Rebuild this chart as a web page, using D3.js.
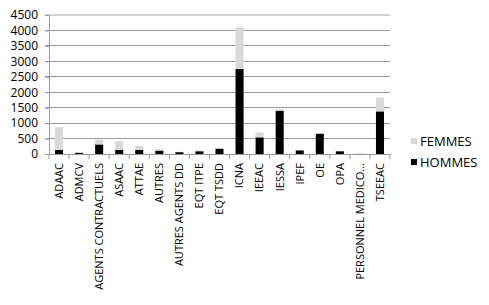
<!DOCTYPE html>
<meta charset="utf-8">
<script src="https://d3js.org/d3.v7.min.js"></script>
<style>
  body { margin: 0; background: #fff; }
  text { font-family: "Open Sans", sans-serif; fill: #000; }
</style>
<div id="my_dataviz"></div>

<script>
// Donnees
var categories = ["ADAAC", "ADMCV", "AGENTS CONTRACTUELS", "ASAAC", "ATTAE", "AUTRES",
                  "AUTRES AGENTS DD", "EQT ITPE", "EQT TSDD", "ICNA", "IEEAC", "IESSA",
                  "IPEF", "OE", "OPA", "PERSONNEL MEDICO...", "TSEEAC"];
var hommes = [130, 40, 310, 130, 130, 110, 60, 90, 170, 2750, 540, 1400, 120, 660, 90, 5, 1380];
var femmes = [740, 20, 150, 290, 130, 50, 10, 20, 5, 1350, 160, 50, 10, 20, 5, 5, 450];
var yTicks = [0, 500, 1000, 1500, 2000, 2500, 3000, 3500, 4000, 4500];
var series = ["HOMMES", "FEMMES"];
var colors = {HOMMES: "#000000", FEMMES: "#d9d9d9"};

var W = 489, H = 305;
var margin = {top: 15, left: 49, right: 99, bottom: 151};
var width = W - margin.left - margin.right,
    height = H - margin.top - margin.bottom;

var svg = d3.select("#my_dataviz")
  .append("svg")
  .attr("width", W)
  .attr("height", H);

var g = svg.append("g")
  .attr("transform", "translate(" + margin.left + "," + margin.top + ")");

var x = d3.scaleBand().domain(categories).range([0, width]).paddingInner(0.6).paddingOuter(0.3);
var xb = d3.scaleBand().domain(categories).range([0, width]);
var y = d3.scaleLinear().domain([0, 4500]).range([height, 0]);

// Grille horizontale
g.append("g")
  .selectAll("line")
  .data(yTicks.slice(1))
  .enter().append("line")
  .attr("x1", -4).attr("x2", width)
  .attr("y1", function(d) { return y(d); })
  .attr("y2", function(d) { return y(d); })
  .attr("stroke", function(d) { return d === 4500 ? "#cfcfcf" : "#9a9a9a"; })
  .attr("stroke-width", function(d) { return d === 4500 ? 1.5 : 1; })
  .attr("shape-rendering", "crispEdges");

// Axe Y
var yAxis = g.append("g")
  .call(d3.axisLeft(y).tickValues(yTicks).tickFormat(d3.format("d")).tickSize(4).tickPadding(7));
yAxis.select(".domain").attr("stroke", "#9a9a9a");
yAxis.selectAll(".tick line").attr("stroke", "#9a9a9a");
yAxis.selectAll("text").style("font-size", "12px").style("font-family", "Open Sans");

// Barres empilees
var data = categories.map(function(c, i) { return {cat: c, HOMMES: hommes[i], FEMMES: femmes[i]}; });
var stacked = d3.stack().keys(series)(data);

g.append("g")
  .selectAll("g")
  .data(stacked)
  .enter().append("g")
  .attr("fill", function(d) { return colors[d.key]; })
  .selectAll("rect")
  .data(function(d) { return d; })
  .enter().append("rect")
  .attr("x", function(d) { return x(d.data.cat); })
  .attr("width", x.bandwidth())
  .attr("y", function(d) { return y(d[1]); })
  .attr("height", function(d) { return y(d[0]) - y(d[1]); });

// Axe X
var xAxis = g.append("g")
  .attr("transform", "translate(0," + height + ")")
  .call(d3.axisBottom(xb).tickSize(0).tickPadding(0));
xAxis.select(".domain").attr("stroke", "#9a9a9a");

// Graduations aux limites des categories
xAxis.selectAll(".sep")
  .data(d3.range(categories.length + 1))
  .enter().append("line")
  .attr("x1", function(i) { return i * xb.step(); })
  .attr("x2", function(i) { return i * xb.step(); })
  .attr("y1", 0).attr("y2", 5)
  .attr("stroke", "#9a9a9a");

xAxis.selectAll(".tick text")
  .style("font-size", "11px")
  .style("font-family", "Open Sans")
  .attr("text-anchor", "end")
  .attr("dy", "0.35em")
  .attr("transform", "translate(0,9) rotate(-90)")
  .attr("x", 0).attr("y", 0);

// Legende
var legend = svg.append("g")
  .attr("transform", "translate(411,135)");
["FEMMES", "HOMMES"].forEach(function(k, i) {
  var row = legend.append("g").attr("transform", "translate(0," + (i * 21) + ")");
  row.append("rect").attr("width", 6).attr("height", 6).attr("y", 3).attr("fill", colors[k]);
  row.append("text").attr("x", 9).attr("y", 6).attr("dy", "0.35em")
    .style("font-size", "13px").text(k);
});
</script>
